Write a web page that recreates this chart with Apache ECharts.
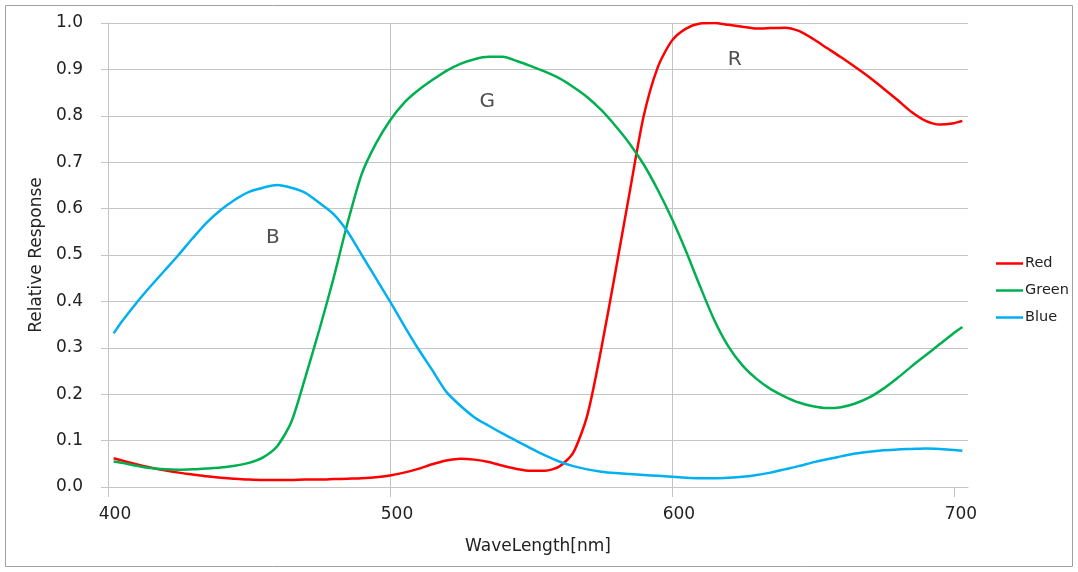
<!DOCTYPE html>
<html lang="en">
<head>
    <meta charset="UTF-8">
    <title>Relative Response</title>
    <script type="text/javascript" src="https://cdn.jsdelivr.net/npm/echarts@6/dist/echarts.min.js"></script>
    <style>
        html, body { margin: 0; padding: 0; background: #fff; }
    </style>
</head>
<body>
<div id="main" style="width: 1078px;height:572px;"></div>

<script type="text/javascript">
    // wavelength samples (nm)
    var waveLength = [402, 405, 410, 415, 420, 425, 430, 435, 440, 445, 450, 455, 460, 465, 470, 475, 480, 485, 490, 495,
        500, 505, 510, 515, 520, 525, 530, 535, 540, 545, 550, 555, 560, 565, 570, 575, 580, 585, 590, 595,
        600, 605, 610, 615, 620, 625, 630, 635, 640, 645, 650, 655, 660, 665, 670, 675, 680, 685, 690, 695,
        700, 703];

    var redValues = [0.062, 0.057, 0.049, 0.042, 0.036, 0.031, 0.027, 0.023, 0.020, 0.018, 0.016, 0.015, 0.015, 0.015, 0.016, 0.016, 0.017, 0.018, 0.019, 0.021,
        0.025, 0.031, 0.039, 0.049, 0.057, 0.061, 0.059, 0.054, 0.046, 0.039, 0.035, 0.035, 0.044, 0.074, 0.155, 0.300, 0.465, 0.635, 0.800, 0.905,
        0.962, 0.988, 0.999, 1.000, 0.996, 0.992, 0.988, 0.989, 0.990, 0.983, 0.966, 0.946, 0.926, 0.905, 0.883, 0.859, 0.834, 0.808, 0.789, 0.781,
        0.784, 0.789];

    var greenValues = [0.055, 0.052, 0.046, 0.041, 0.038, 0.037, 0.038, 0.040, 0.042, 0.046, 0.052, 0.064, 0.088, 0.140, 0.237, 0.340, 0.450, 0.570, 0.675, 0.740,
        0.790, 0.828, 0.855, 0.877, 0.897, 0.912, 0.922, 0.927, 0.927, 0.918, 0.907, 0.895, 0.881, 0.862, 0.840, 0.812, 0.778, 0.740, 0.695, 0.640,
        0.578, 0.508, 0.432, 0.360, 0.303, 0.262, 0.233, 0.211, 0.195, 0.182, 0.174, 0.170, 0.172, 0.180, 0.193, 0.212, 0.235, 0.260, 0.284, 0.308,
        0.332, 0.345];

    var blueValues = [0.331, 0.357, 0.396, 0.432, 0.466, 0.500, 0.536, 0.570, 0.597, 0.619, 0.636, 0.645, 0.651, 0.645, 0.634, 0.612, 0.588, 0.550, 0.500, 0.450,
        0.400, 0.348, 0.298, 0.252, 0.205, 0.175, 0.150, 0.132, 0.115, 0.099, 0.083, 0.068, 0.055, 0.045, 0.038, 0.033, 0.030, 0.028, 0.026, 0.024,
        0.022, 0.020, 0.019, 0.019, 0.020, 0.022, 0.026, 0.031, 0.038, 0.045, 0.053, 0.060, 0.066, 0.072, 0.076, 0.079, 0.081, 0.082, 0.083, 0.082,
        0.080, 0.078];

    // text marks inside the plot: [text, wavelength, response]
    var curveNotes = [['B', 458.5, 0.537], ['G', 534.5, 0.830], ['R', 622.3, 0.920]];

    var xTicks = [400, 500, 600, 700];

    function pairs(ys) {
        var out = [];
        for (var i = 0; i < waveLength.length; i++) {
            out.push([waveLength[i], ys[i]]);
        }
        return out;
    }

    var font = 'DejaVu Sans';
    var gridColor = '#c4c4c4';

    var myChart = echarts.init(document.getElementById('main'));
    myChart.setOption({
        animation: false,
        textStyle: { fontFamily: font },
        graphic: [{
            type: 'rect',
            shape: { x: 5.5, y: 5.5, width: 1067, height: 561 },
            style: { fill: 'none', stroke: '#a0a0a0', lineWidth: 1 },
            z: -1
        }],
        grid: { left: 108, right: 110, top: 23, bottom: 85 },
        legend: {
            data: ['Red', 'Green', 'Blue'],
            orient: 'vertical',
            left: 996,
            top: 256,
            padding: 0,
            icon: 'rect',
            itemWidth: 27,
            itemHeight: 2.5,
            itemGap: 12,
            textStyle: { fontFamily: font, fontSize: 14.5, color: '#222', padding: [0, 0, 0, -3] }
        },
        xAxis: {
            type: 'value',
            min: 400,
            max: 705,
            interval: 100,
            name: 'WaveLength[nm]',
            nameLocation: 'middle',
            nameGap: 51,
            nameTextStyle: { fontFamily: font, fontSize: 17, color: '#222' },
            axisLine: { show: true, lineStyle: { color: gridColor } },
            axisTick: { show: true, length: 10, lineStyle: { color: gridColor }, customValues: xTicks },
            axisLabel: {
                customValues: xTicks,
                fontFamily: font, fontSize: 17, color: '#222', margin: 19,
                padding: [0, 0, 0, 14]
            },
            splitLine: { show: true, showMaxLine: false, lineStyle: { color: gridColor } }
        },
        yAxis: {
            type: 'value',
            min: 0,
            max: 1,
            interval: 0.1,
            name: 'Relative Response',
            nameLocation: 'middle',
            nameGap: 62,
            nameTextStyle: { fontFamily: font, fontSize: 17, color: '#222' },
            axisLine: { show: true, lineStyle: { color: gridColor } },
            axisTick: { show: true, length: 7, lineStyle: { color: gridColor } },
            axisLabel: {
                fontFamily: font, fontSize: 17, color: '#222', margin: 25,
                formatter: function (v) { return v.toFixed(1); }
            },
            splitLine: { show: true, lineStyle: { color: gridColor } }
        },
        series: [{
            name: 'Red',
            type: 'line',
            data: pairs(redValues),
            symbol: 'none',
            smooth: 0.25,
            color: '#ff0000',
            lineStyle: { width: 2.5 }
        }, {
            name: 'Green',
            type: 'line',
            data: pairs(greenValues),
            symbol: 'none',
            smooth: 0.25,
            color: '#00b050',
            lineStyle: { width: 2.5 }
        }, {
            name: 'Blue',
            type: 'line',
            data: pairs(blueValues),
            symbol: 'none',
            smooth: 0.25,
            color: '#00b0f0',
            lineStyle: { width: 2.5 }
        }, {
            name: 'notes',
            type: 'scatter',
            data: curveNotes.map(function (n) { return { name: n[0], value: [n[1], n[2]] }; }),
            symbolSize: 0,
            silent: true,
            label: {
                show: true,
                position: 'inside',
                formatter: '{b}',
                fontFamily: font,
                fontSize: 20,
                color: '#222'
            }
        }]
    });
</script>
</body>
</html>
